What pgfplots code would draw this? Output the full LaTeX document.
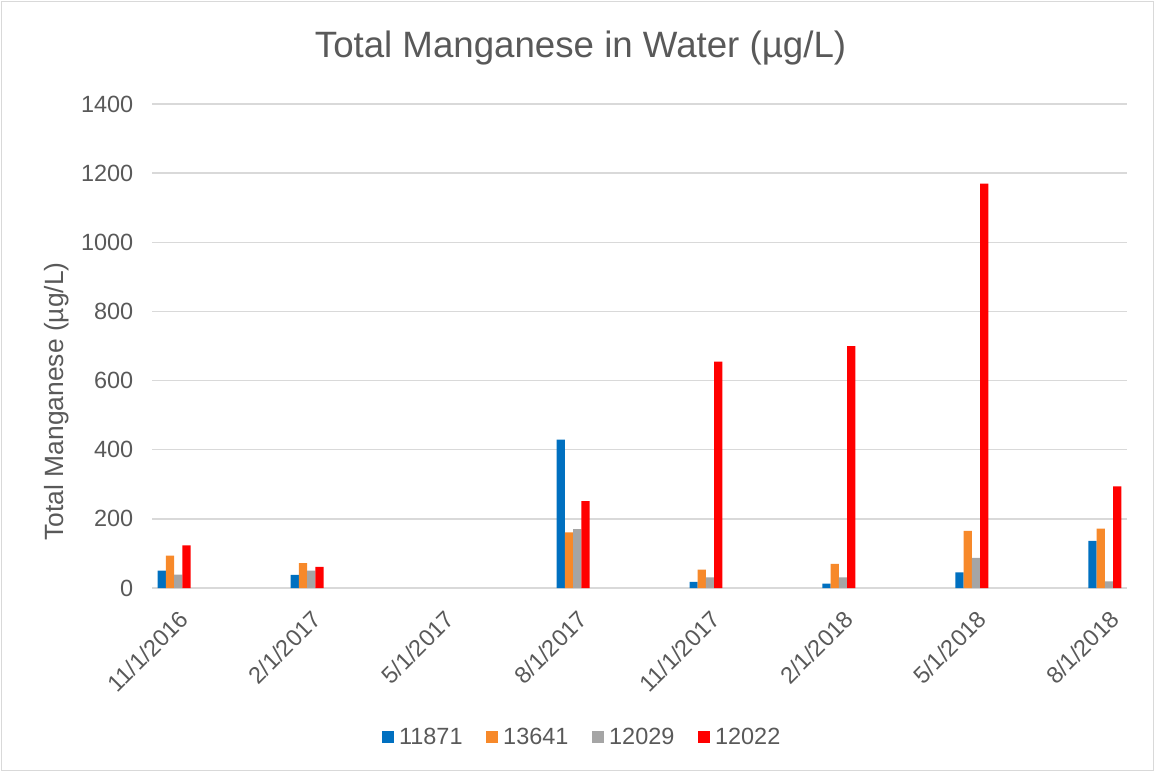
\documentclass[border=0pt]{standalone}
\usepackage{fontspec}
\setmainfont{Liberation Sans}
\usepackage{pgfplots}
\pgfplotsset{compat=1.18}
\usepackage{pgfplotstable}
\definecolor{txt}{HTML}{595959}
\definecolor{gridc}{HTML}{D9D9D9}
\definecolor{cblue}{HTML}{0070C0}
\definecolor{corange}{HTML}{F7892A}
\definecolor{cgray}{HTML}{A5A5A5}
\definecolor{cred}{HTML}{FF0000}
\pgfplotstableread{
x b o g r
0 50 94 39 123
3 38 72 50 61
9 429 161 170 251
12 18 53 31 655
15 13 70 31 700
18 45 165 87 1170
21 136 172 19 294
}\data
\begin{document}
\begin{tikzpicture}
\path[use as bounding box] (0,0) rectangle (866.25pt,579pt);
\draw[gridc, line width=0.8pt] (1pt,1pt) rectangle (865.25pt,578pt);
\node[text=txt, font=\fontsize{27.5}{32}\selectfont] at (435.4pt,543pt) {Total Manganese in Water (µg/L)};
\begin{axis}[
  at={(114pt,138pt)}, anchor=south west,
  scale only axis, width=731.25pt, height=363pt,
  xmin=-0.5, xmax=21.5, ymin=0, ymax=1400,
  ytick={0,200,...,1400},
  xtick={0,3,...,21},
  xticklabels={11/1/2016,2/1/2017,5/1/2017,8/1/2017,11/1/2017,2/1/2018,5/1/2018,8/1/2018},
  ymajorgrids, grid style={gridc, line width=1.1pt},
  axis line style={draw=none},
  axis x line*=bottom,
  x axis line style={gridc, line width=1.1pt},
  tick style={draw=none},
  major tick length=0pt,
  /pgf/number format/assume math mode=true,
  /pgf/number format/1000 sep={},
  tick label style={text=txt, font=\fontsize{17.6}{20}\selectfont},
  yticklabel style={xshift=-10.5pt},
  xticklabel style={rotate=45, anchor=north east, inner sep=0pt, xshift=-9pt, yshift=-13pt},
  ylabel={Total Manganese (µg/L)},
  every axis y label/.style={at={(-71.25pt,140pt)}, rotate=90, anchor=center, text=txt, font=\fontsize{19.8}{23}\selectfont},
  ybar, bar width=0.186,
  legend columns=4,
  legend style={at={(0.4414,-0.3078)}, anchor=center, draw=none, fill=none,
    font=\fontsize{17.6}{20}\selectfont, text=txt,
    nodes={inner sep=2pt},
    /tikz/every odd column/.append style={column sep=2pt},
    /tikz/every even column/.append style={column sep=15.5pt}},
  legend image code/.code={\fill[#1] (0pt,-4.5pt) rectangle (9pt,4.5pt);},
]
\addplot[fill=cblue, draw=none, bar shift=-0.279] table[x=x,y=b]{\data};
\addplot[fill=corange, draw=none, bar shift=-0.093] table[x=x,y=o]{\data};
\addplot[fill=cgray, draw=none, bar shift=0.093] table[x=x,y=g]{\data};
\addplot[fill=cred, draw=none, bar shift=0.279] table[x=x,y=r]{\data};
\legend{11871,13641,12029,12022}
\end{axis}
\end{tikzpicture}
\end{document}
